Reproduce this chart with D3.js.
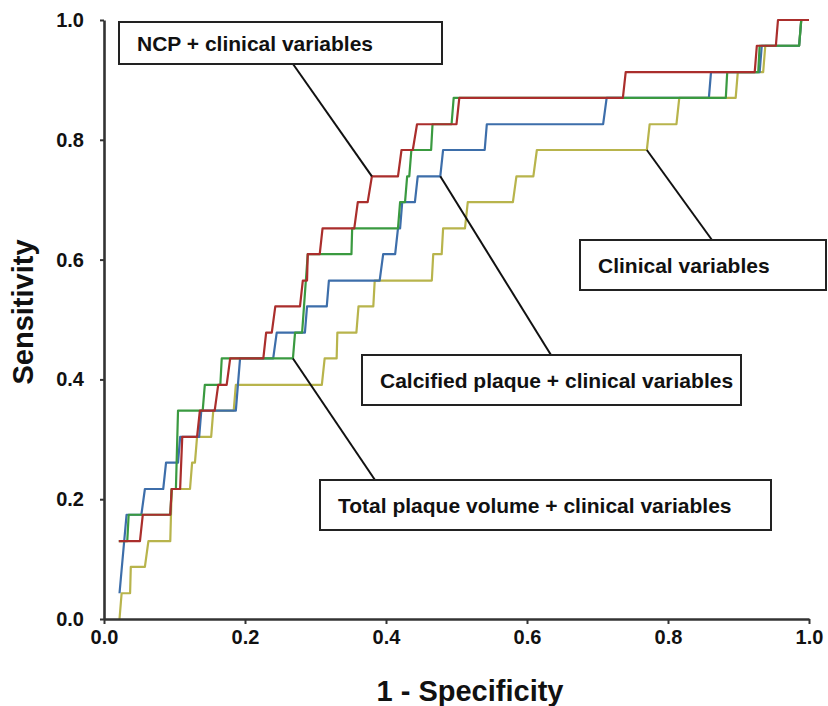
<!DOCTYPE html>
<html>
<head>
<meta charset="utf-8">
<script src="https://cdn.jsdelivr.net/npm/d3@7"></script>
<style>
html, body { margin: 0; padding: 0; background: #fff; }
svg { display: block; font-family: "Liberation Sans", Arial, Helvetica, sans-serif; }
</style>
</head>
<body>
<svg width="828" height="706"></svg>
<script>
// ROC curves, 1 - specificity (x) vs sensitivity (y)
var ncpX = [0.021,0.051,0.055,0.094,0.096,0.108,0.111,0.132,0.136,0.157,0.162,0.174,0.179,0.226,0.230,0.238,0.243,0.278,0.282,0.288,0.289,0.306,0.310,0.355,0.360,0.374,0.380,0.417,0.422,0.438,0.444,0.500,0.504,0.736,0.740,0.923,0.926,0.953,0.956,1.0];
var ncpY = [0.130,0.130,0.174,0.174,0.217,0.217,0.304,0.304,0.348,0.348,0.391,0.391,0.435,0.435,0.478,0.478,0.522,0.522,0.565,0.565,0.609,0.609,0.652,0.652,0.696,0.696,0.739,0.739,0.783,0.783,0.826,0.826,0.870,0.870,0.913,0.913,0.957,0.957,1.0,1.0];

var totalX = [0.021,0.033,0.035,0.094,0.096,0.102,0.105,0.140,0.143,0.165,0.167,0.268,0.271,0.281,0.289,0.351,0.352,0.417,0.420,0.427,0.430,0.433,0.436,0.464,0.466,0.493,0.496,0.882,0.884,0.928,0.930,0.986,0.989,1.0];
var totalY = [0.130,0.130,0.174,0.174,0.217,0.217,0.348,0.348,0.391,0.391,0.435,0.435,0.478,0.478,0.609,0.609,0.652,0.652,0.696,0.696,0.739,0.739,0.783,0.783,0.826,0.826,0.870,0.870,0.913,0.913,0.957,0.957,1.0,1.0];

var calcX = [0.022,0.032,0.053,0.058,0.084,0.088,0.105,0.108,0.135,0.138,0.187,0.193,0.240,0.245,0.285,0.288,0.316,0.319,0.391,0.396,0.413,0.417,0.420,0.423,0.441,0.445,0.477,0.481,0.540,0.543,0.708,0.713,0.858,0.861,0.930,0.933,0.986,0.989,1.0];
var calcY = [0.043,0.174,0.174,0.217,0.217,0.261,0.261,0.304,0.304,0.348,0.348,0.435,0.435,0.478,0.478,0.522,0.522,0.565,0.565,0.609,0.609,0.652,0.652,0.696,0.696,0.739,0.739,0.783,0.783,0.826,0.826,0.870,0.870,0.913,0.913,0.957,0.957,1.0,1.0];

var clinX = [0.022,0.025,0.037,0.038,0.058,0.063,0.094,0.096,0.122,0.125,0.129,0.132,0.152,0.155,0.184,0.187,0.309,0.313,0.330,0.331,0.358,0.361,0.382,0.384,0.465,0.467,0.479,0.481,0.512,0.516,0.580,0.585,0.609,0.614,0.770,0.774,0.812,0.816,0.896,0.899,0.935,0.938,0.986,0.989,1.0];
var clinY = [0.0,0.043,0.043,0.087,0.087,0.130,0.130,0.217,0.217,0.261,0.261,0.304,0.304,0.348,0.348,0.391,0.391,0.435,0.435,0.478,0.478,0.522,0.522,0.565,0.565,0.609,0.609,0.652,0.652,0.696,0.696,0.739,0.739,0.783,0.783,0.826,0.826,0.870,0.870,0.913,0.913,0.957,0.957,1.0,1.0];

var seriesNames = ["Clinical variables", "Calcified plaque + clinical variables", "Total plaque volume + clinical variables", "NCP + clinical variables"];
var seriesColors = ["#b8b44c", "#3d6eaa", "#3a9a40", "#aa2e2c"];
var tickValues = [0, 0.2, 0.4, 0.6, 0.8, 1.0];

var svg = d3.select("svg");

var x = d3.scaleLinear().domain([0, 1]).range([104, 809]);
var y = d3.scaleLinear().domain([0, 1]).range([619, 20]);

function zip(xs, ys) { return xs.map(function(v, i) { return [v, ys[i]]; }); }

var series = [zip(clinX, clinY), zip(calcX, calcY), zip(totalX, totalY), zip(ncpX, ncpY)];

var line = d3.line()
    .x(function(d) { return x(d[0]); })
    .y(function(d) { return y(d[1]); });

svg.append("g").selectAll("path")
    .data(series)
  .enter().append("path")
    .attr("d", line)
    .attr("fill", "none")
    .attr("stroke", function(d, i) { return seriesColors[i]; })
    .attr("stroke-width", 2.2)
    .attr("stroke-linejoin", "round");

// axes
var yAxis = svg.append("g")
    .attr("transform", "translate(" + x(0) + ",0)")
    .call(d3.axisLeft(y).tickValues(tickValues).tickFormat(d3.format(".1f")).tickSize(4).tickSizeOuter(0).tickPadding(16));

var xAxis = svg.append("g")
    .attr("transform", "translate(0," + y(0) + ")")
    .call(d3.axisBottom(x).tickValues(tickValues).tickFormat(d3.format(".1f")).tickSize(5).tickSizeOuter(0).tickPadding(6));

[xAxis, yAxis].forEach(function(a) {
  a.select(".domain").attr("stroke", "#333").attr("stroke-width", 2.6);
  a.selectAll(".tick line").attr("stroke", "#333").attr("stroke-width", 2);
  a.selectAll(".tick text")
      .attr("fill", "#111")
      .style("font-size", "20px")
      .style("font-weight", "bold")
      .style("font-family", "'Liberation Sans', Arial, sans-serif");
});

svg.append("text")
    .attr("x", 470)
    .attr("y", 701)
    .attr("text-anchor", "middle")
    .attr("fill", "#111")
    .style("font-size", "29px")
    .style("font-weight", "bold")
    .text("1 - Specificity");

svg.append("text")
    .attr("transform", "translate(33,312) rotate(-90)")
    .attr("text-anchor", "middle")
    .attr("fill", "#111")
    .style("font-size", "29px")
    .style("font-weight", "bold")
    .text("Sensitivity");

// callout boxes: box rect, line from box edge to curve corner
var callouts = [
  { name: seriesNames[3], box: [119, 22, 323, 42], from: [293, 64], at: [0.380, 0.739] },
  { name: seriesNames[0], box: [580, 240, 246, 50], from: [712, 240], at: [0.770, 0.783] },
  { name: seriesNames[1], box: [362, 355, 379, 50], from: [551, 355], at: [0.477, 0.739] },
  { name: seriesNames[2], box: [320, 480, 451, 50], from: [375, 480], at: [0.268, 0.435] }
];

var call = svg.append("g").selectAll("g")
    .data(callouts)
  .enter().append("g");

call.append("line")
    .attr("x1", function(d) { return d.from[0]; })
    .attr("y1", function(d) { return d.from[1]; })
    .attr("x2", function(d) { return x(d.at[0]); })
    .attr("y2", function(d) { return y(d.at[1]); })
    .attr("stroke", "#111")
    .attr("stroke-width", 2);

call.append("rect")
    .attr("x", function(d) { return d.box[0]; })
    .attr("y", function(d) { return d.box[1]; })
    .attr("width", function(d) { return d.box[2]; })
    .attr("height", function(d) { return d.box[3]; })
    .attr("fill", "#fff")
    .attr("stroke", "#222")
    .attr("stroke-width", 2);

call.append("text")
    .attr("x", function(d) { return d.box[0] + 18; })
    .attr("y", function(d) { return d.box[1] + d.box[3] / 2; })
    .attr("dy", "0.36em")
    .attr("fill", "#111")
    .style("font-size", "21px")
    .style("font-weight", "bold")
    .text(function(d) { return d.name; });
</script>
</body>
</html>
